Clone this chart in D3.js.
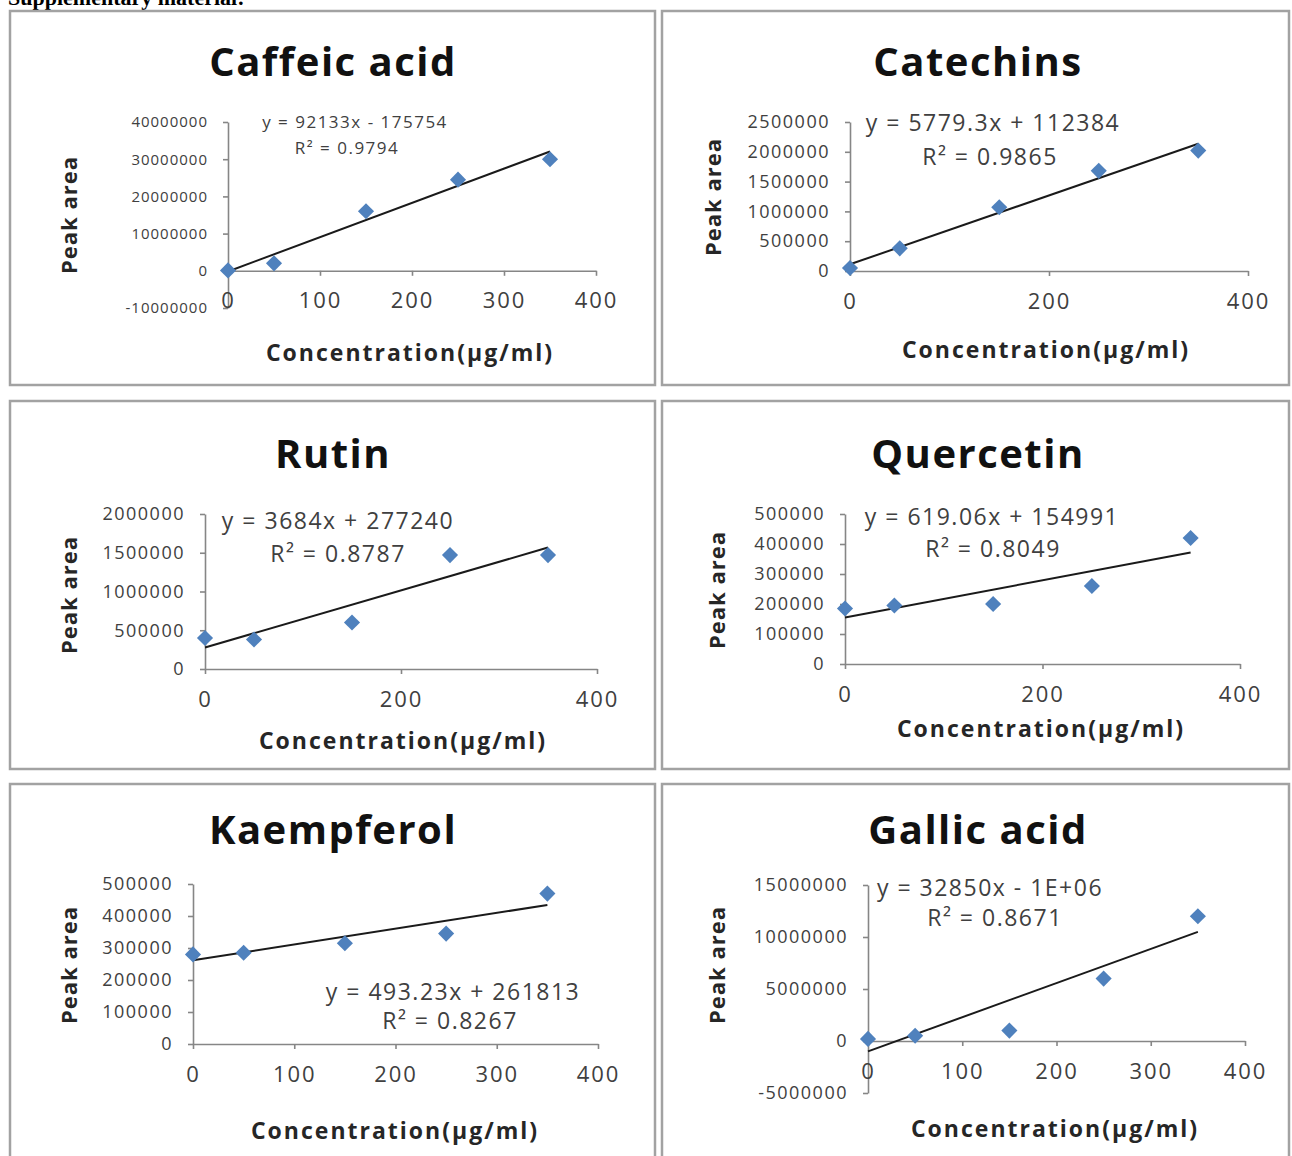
<!DOCTYPE html>
<html>
<head>
<meta charset="utf-8">
<script src="https://cdn.jsdelivr.net/npm/d3@7"></script>
<style>
  body { margin: 0; background: #fff; }
  svg text { font-family: "Open Sans", sans-serif; }
</style>
</head>
<body>
<div id="chart"></div>
<script>
// Data
const compounds = ["Caffeic acid", "Catechins", "Rutin", "Quercetin", "Kaempferol", "Gallic acid"];
const concentrations = [0, 50, 150, 250, 350];

const caffeicArea = [100000, 2000000, 16000000, 24500000, 30000000];
const catechinsArea = [50000, 380000, 1070000, 1680000, 2020000];
const rutinArea = [400000, 380000, 600000, 1470000, 1470000];
const quercetinArea = [185000, 195000, 200000, 260000, 420000];
const kaempferolArea = [280000, 285000, 315000, 345000, 470000];
const gallicArea = [200000, 500000, 1000000, 6000000, 12000000];
const peakAreas = [caffeicArea, catechinsArea, rutinArea, quercetinArea, kaempferolArea, gallicArea];

// trendline equations as printed on the chart
const slopes = [92133, 5779.3, 3684, 619.06, 493.23, 32850];
const intercepts = [-175754, 112384, 277240, 154991, 261813, -1000000];
const equations = [
  "y = 92133x - 175754",
  "y = 5779.3x + 112384",
  "y = 3684x + 277240",
  "y = 619.06x + 154991",
  "y = 493.23x + 261813",
  "y = 32850x - 1E+06",
];
const rSquared = ["R² = 0.9794", "R² = 0.9865", "R² = 0.8787", "R² = 0.8049", "R² = 0.8267", "R² = 0.8671"];

const yTicks = [
  [-10000000, 0, 10000000, 20000000, 30000000, 40000000],
  [0, 500000, 1000000, 1500000, 2000000, 2500000],
  [0, 500000, 1000000, 1500000, 2000000],
  [0, 100000, 200000, 300000, 400000, 500000],
  [0, 100000, 200000, 300000, 400000, 500000],
  [-5000000, 0, 5000000, 10000000, 15000000],
];
const xTicks = [
  [0, 100, 200, 300, 400],
  [0, 200, 400],
  [0, 200, 400],
  [0, 200, 400],
  [0, 100, 200, 300, 400],
  [0, 100, 200, 300, 400],
];

const xTitle = "Concentration(µg/ml)";
const yTitle = "Peak area";

// Layout (pixels) for each panel
const layout = [
  { frame: [10, 11, 645, 374], plot: [228, 596, 122, 308], title: [333, 60], ylab: [68, 215], xlab: [410, 352], eq: [355, 121], r2: [347, 147], small: true },
  { frame: [662, 11, 627, 374], plot: [850, 1248, 122, 271], title: [978, 60], ylab: [712, 197], xlab: [1046, 349], eq: [993, 122], r2: [990, 156] },
  { frame: [10, 401, 645, 368], plot: [205, 597, 514, 669], title: [333, 452], ylab: [68, 595], xlab: [403, 740], eq: [338, 520], r2: [338, 553] },
  { frame: [662, 401, 627, 368], plot: [845, 1240, 514, 664], title: [978, 452], ylab: [716, 590], xlab: [1041, 728], eq: [992, 516], r2: [993, 548] },
  { frame: [10, 784, 645, 380], plot: [193, 598, 884, 1044], title: [333, 828], ylab: [68, 965], xlab: [395, 1130], eq: [453, 991], r2: [450, 1020] },
  { frame: [662, 784, 627, 380], plot: [868, 1245, 885, 1093], title: [978, 828], ylab: [716, 965], xlab: [1055, 1128], eq: [990, 887], r2: [995, 917] },
];

const axisColor = "#868686";
const markerColor = "#4f81bd";
const textColor = "#404040";

const svg = d3
  .select("#chart")
  .append("svg")
  .attr("width", 1292)
  .attr("height", 1156);

// Cut-off page heading
svg
  .append("text")
  .attr("x", 8)
  .attr("y", 5)
  .style("font-family", "'Liberation Serif', 'Times New Roman', serif")
  .style("font-weight", "bold")
  .style("font-size", "22px")
  .text("Supplementary material:");

compounds.forEach((name, i) => {
  const L = layout[i];
  const g = svg.append("g");

  // Frame
  g.append("rect")
    .attr("x", L.frame[0])
    .attr("y", L.frame[1])
    .attr("width", L.frame[2])
    .attr("height", L.frame[3])
    .attr("fill", "#fff")
    .attr("stroke", "#a2a2a2")
    .attr("stroke-width", 2.5);

  // Scales
  const yt = yTicks[i];
  const xScale = d3.scaleLinear().domain([0, 400]).range([L.plot[0], L.plot[1]]);
  const yScale = d3
    .scaleLinear()
    .domain([yt[0], yt[yt.length - 1]])
    .range([L.plot[3], L.plot[2]]);

  // Y axis
  const yAxis = d3
    .axisLeft(yScale)
    .tickValues(yt)
    .tickSize(5)
    .tickSizeOuter(0)
    .tickPadding(15)
    .tickFormat((d) => String(d));

  const yg = g
    .append("g")
    .attr("transform", `translate(${xScale(0)},0)`)
    .call(yAxis);

  yg.selectAll("text")
    .attr("fill", textColor)
    .style("font-size", L.small ? "15px" : "18px")
    .style("letter-spacing", L.small ? "1px" : "1.5px");

  // X axis at y = 0
  const xAxis = d3
    .axisBottom(xScale)
    .tickValues(xTicks[i])
    .tickSize(5)
    .tickSizeOuter(0)
    .tickPadding(17)
    .tickFormat((d) => String(d));

  const xg = g
    .append("g")
    .attr("transform", `translate(0,${yScale(0)})`)
    .call(xAxis);

  xg.selectAll("text")
    .attr("fill", textColor)
    .style("font-size", "22px")
    .style("letter-spacing", "2px");

  g.selectAll(".domain, .tick line")
    .attr("stroke", axisColor)
    .attr("stroke-width", 1.6);

  // Trendline
  const ext = d3.extent(concentrations);
  const line = d3
    .line()
    .x((d) => xScale(d))
    .y((d) => yScale(slopes[i] * d + intercepts[i]));

  g.append("path")
    .datum(ext)
    .attr("d", line)
    .attr("fill", "none")
    .attr("stroke", "#1a1a1a")
    .attr("stroke-width", 2);

  // Markers
  const diamond = d3.symbol(d3.symbolSquare, 130);
  g.selectAll(".pt")
    .data(concentrations)
    .join("path")
    .attr("class", "pt")
    .attr("d", diamond)
    .attr(
      "transform",
      (d, j) => `translate(${xScale(d)},${yScale(peakAreas[i][j])}) rotate(45)`
    )
    .attr("fill", markerColor);

  // Title
  g.append("text")
    .attr("x", L.title[0])
    .attr("y", L.title[1])
    .attr("text-anchor", "middle")
    .attr("dominant-baseline", "central")
    .style("font-size", "40px")
    .style("font-weight", "bold")
    .style("letter-spacing", "1.5px")
    .attr("fill", "#111")
    .text(name);

  // Axis titles
  g.append("text")
    .attr("transform", `translate(${L.ylab[0]},${L.ylab[1]}) rotate(-90)`)
    .attr("text-anchor", "middle")
    .attr("dominant-baseline", "central")
    .style("font-size", "22px")
    .style("font-weight", "bold")
    .style("letter-spacing", "1px")
    .attr("fill", "#262626")
    .text(yTitle);

  g.append("text")
    .attr("x", L.xlab[0])
    .attr("y", L.xlab[1])
    .attr("text-anchor", "middle")
    .attr("dominant-baseline", "central")
    .style("font-size", "23px")
    .style("font-weight", "bold")
    .style("letter-spacing", "2px")
    .attr("fill", "#262626")
    .text(xTitle);

  // Equation labels
  g.append("text")
    .attr("x", L.eq[0])
    .attr("y", L.eq[1])
    .attr("text-anchor", "middle")
    .attr("dominant-baseline", "central")
    .style("font-size", L.small ? "17px" : "23px")
    .style("letter-spacing", "1.5px")
    .attr("fill", textColor)
    .text(equations[i]);

  g.append("text")
    .attr("x", L.r2[0])
    .attr("y", L.r2[1])
    .attr("text-anchor", "middle")
    .attr("dominant-baseline", "central")
    .style("font-size", L.small ? "17px" : "23px")
    .style("letter-spacing", "1.5px")
    .attr("fill", textColor)
    .text(rSquared[i]);
});
</script>
</body>
</html>
